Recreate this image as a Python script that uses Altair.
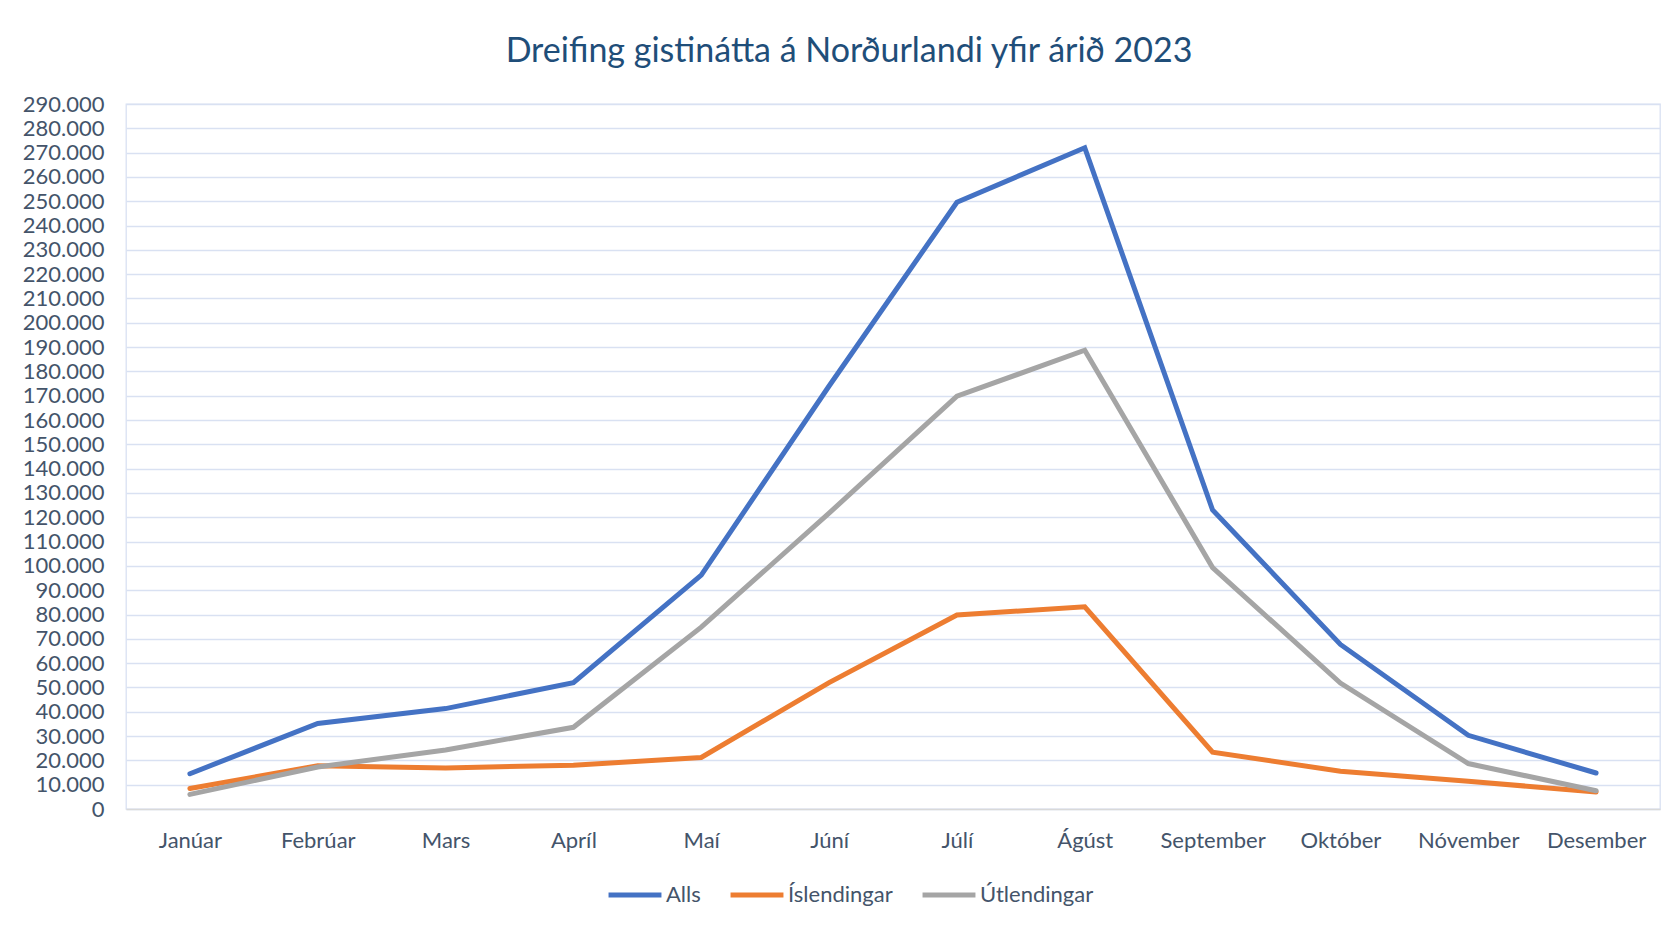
import altair as alt
import pandas as pd

months = ["Janúar", "Febrúar", "Mars", "Apríl", "Maí", "Júní", "Júlí", "Ágúst",
          "September", "Október", "Nóvember", "Desember"]
series_names = ["Alls", "Íslendingar", "Útlendingar"]
alls = [14500, 35200, 41300, 52000, 96200, 174000, 249600, 272000, 123000, 67700, 30300, 14800]
islendingar = [8400, 17800, 16900, 18000, 21200, 52000, 79800, 83200, 23400, 15500, 11400, 7000]
utlendingar = [6000, 17300, 24300, 33600, 74800, 121700, 169800, 188700, 99300, 51800, 18700, 7500]
colors = ["#4472C4", "#ED7D31", "#A5A5A5"]
y_ticks = list(range(0, 290001, 10000))

rows = []
for name, vals in zip(series_names, [alls, islendingar, utlendingar]):
    for m, v in zip(months, vals):
        rows.append({"Mánuður": m, "Röð": name, "Gistinætur": v})
df = pd.DataFrame(rows)

FONT = "Lato"
LABEL_COLOR = "#44546A"
GRID = "#D9E1F2"

chart = alt.Chart(df).mark_line(strokeWidth=5, strokeCap="round", strokeJoin="miter").encode(
    x=alt.X("Mánuður:N", sort=months, title=None,
            scale=alt.Scale(type="point", padding=0.5),
            axis=alt.Axis(labelAngle=0, labelFont=FONT, labelFontSize=22, labelColor=LABEL_COLOR,
                          ticks=False, labelPadding=21, domainColor="#D9D9D9", domainWidth=1.5,
                          grid=False)),
    y=alt.Y("Gistinætur:Q", title=None,
            scale=alt.Scale(domain=[0, 290000], nice=False),
            axis=alt.Axis(values=y_ticks, format=",d", labelFont=FONT, labelFontSize=22,
                          labelColor=LABEL_COLOR, ticks=False, domain=False, labelPadding=22,
                          gridColor=GRID, gridWidth=1.3, minExtent=118, maxExtent=118)),
    color=alt.Color("Röð:N", scale=alt.Scale(domain=series_names, range=colors),
                    legend=alt.Legend(title=None, orient="none", direction="horizontal",
                                      legendX=480, legendY=762,
                                      symbolType="stroke", symbolSize=2800, symbolStrokeWidth=5,
                                      labelFont=FONT, labelFontSize=22, labelColor=LABEL_COLOR,
                                      labelOffset=2, columnPadding=19, padding=0)),
).properties(
    width=1534, height=705,
    title=alt.TitleParams("Dreifing gistinátta á Norðurlandi yfir árið 2023", font=FONT,
                          fontSize=34, fontWeight="normal", color="#1F4E79",
                          anchor="middle", frame="group", dx=-44, offset=24),
    padding={"left": 0, "top": 27, "right": 5, "bottom": 5},
).configure(
    locale={"number": {"decimal": ",", "thousands": ".", "grouping": [3], "currency": ["", " kr."]}}
).configure_view(stroke=GRID, strokeWidth=1.3)

chart.save("out.html", embed_options={"renderer": "svg", "actions": False})
